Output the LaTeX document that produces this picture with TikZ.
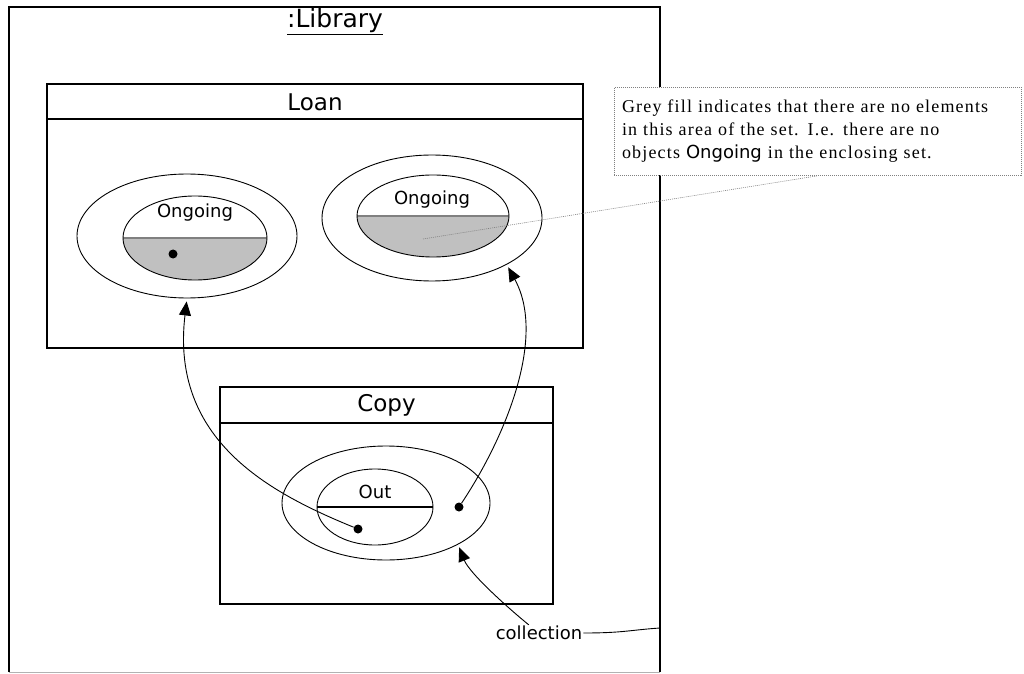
\documentclass[tikz,border=0pt]{standalone}
\usepackage{fontspec}
\setmainfont{Liberation Serif}
\newfontfamily\comicfont{DejaVu Sans}
\newfontfamily\notefont[LetterSpace=6.5]{Liberation Serif}
\usetikzlibrary{shapes.geometric,arrows.meta,positioning}

\definecolor{setgrey}{RGB}{192,192,192}
\definecolor{dividergrey}{RGB}{128,128,128}

\tikzset{
  frame/.style={line width=2.6pt},
  classbox/.style={draw, line width=2.2pt, inner sep=0pt},
  boxline/.style={line width=2.2pt},
  classname/.style={font=\comicfont\fontsize{23}{25}\selectfont, inner sep=1pt},
  setname/.style={font=\comicfont\fontsize{18}{20}\selectfont, inner sep=1pt},
  setring/.style={ellipse, draw, line width=0.9pt, inner sep=0pt},
  halfset/.style={setring, path picture={
      \fill[setgrey] (path picture bounding box.west) rectangle (path picture bounding box.south east);
      \draw[dividergrey, line width=1.4pt] (path picture bounding box.west) -- (path picture bounding box.east);}},
  splitset/.style={setring, path picture={
      \draw[line width=2.2pt] (path picture bounding box.west) -- (path picture bounding box.east);}},
  member/.style={circle, fill, inner sep=0pt, minimum size=9pt},
  link/.style={line width=0.9pt, shorten >=3pt, -{Triangle[length=14pt,width=12pt]}},
  noteline/.style={gray, line width=0.6pt, dash pattern=on 1pt off 1pt},
  notebox/.style={draw, noteline, fill=white, align=left, inner sep=8pt, text=black,
      font=\notefont\fontsize{18}{23}\selectfont}
}

\begin{document}
\begin{tikzpicture}[x=1pt, y=1pt]
	\useasboundingbox (0,0) rectangle (1024,673);

	% Library frame
	\draw[frame] (9,1) -- (9,666) -- (660,666) -- (660,1);
	\draw[gray!60, line width=0.8pt] (9,1) -- (660,1);
	\node[classname, font=\comicfont\fontsize{25}{27}\selectfont] (library) at (335,651) {\underline{:Library}};
	\coordinate (libEdge) at (660,45);

	% Loan
	\node[classbox, minimum width=536, minimum height=264] (loan) at (315,457) {};
	\draw[boxline] ([yshift=-36pt]loan.north west) -- ([yshift=-36pt]loan.north east);
	\node[classname] (loanName) at (315,571) {Loan};

	\node[setring, minimum width=220, minimum height=124] (loanSetL) at (187,437) {};
	\node[halfset, minimum width=144, minimum height=84] (ongoingL) at (195,435) {};
	\node[setname] (ongoingNameL) at (195,460) {Ongoing};
	\node[member] (loanMember) at (173,419) {};

	\node[setring, minimum width=220, minimum height=126] (loanSetR) at (432,455) {};
	\node[halfset, minimum width=152, minimum height=82] (ongoingR) at (433,457) {};
	\node[setname] (ongoingNameR) at (432,473) {Ongoing};
	\coordinate (emptyPt) at (423,434);

	% Copy
	\node[classbox, minimum width=333, minimum height=217] (copy) at (386.5,177.5) {};
	\draw[boxline] ([yshift=-37pt]copy.north west) -- ([yshift=-37pt]copy.north east);
	\node[classname] (copyName) at (386.5,268) {Copy};

	\node[setring, minimum width=208, minimum height=114] (copySet) at (386,170) {};
	\node[splitset, minimum width=116, minimum height=76] (outSet) at (375,166) {};
	\node[setname] (outName) at (375,181) {Out};
	\node[member] (outMember) at (358,144) {};
	\node[member] (copyMember) at (459,166) {};

	% collection
	\node[setname] (collection) at (539,40) {collection};

	% links
	\draw[link] (outMember) .. controls +(-88,36) and +(-17,-142) .. (loanSetL.south);
	\draw[link] (copyMember) .. controls +(46,69) and +(40,-73) .. (loanSetR.-32);
	\draw[link] (collection) .. controls +(-25,20) and +(12,-30) .. (copySet.-30);
	\draw[line width=0.9pt] (collection.east) .. controls +(40,0) and +(-30,-2) .. (libEdge);

	% note
	\node[notebox, text width=391pt, minimum height=88pt] (note) at (817.5,541.5)
		{Grey fill indicates that there are no elements\\
		 in this area of the set. I.e. there are no\\
		 objects {\comicfont Ongoing} in the enclosing set.};
	\draw[noteline] (emptyPt) -- (note.south);
\end{tikzpicture}
\end{document}
